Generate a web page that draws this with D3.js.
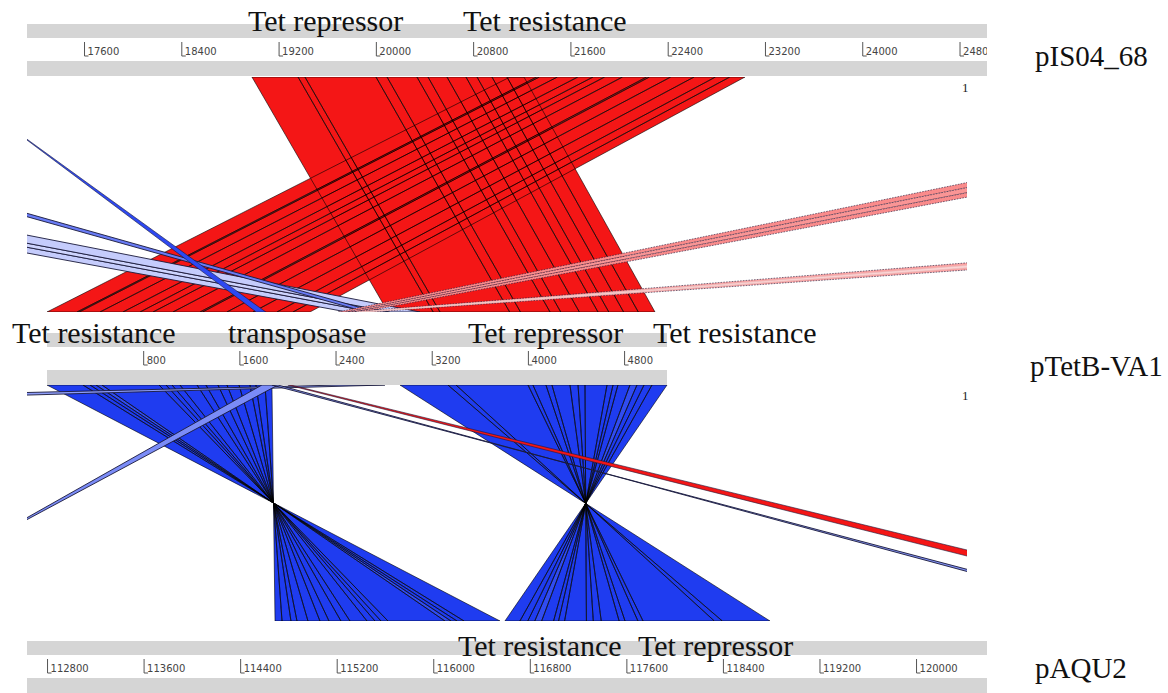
<!DOCTYPE html>
<html><head><meta charset="utf-8">
<script src="https://cdn.jsdelivr.net/npm/d3@7"></script>
<style>
body{margin:0;background:#fff;}
svg{display:block;}
</style></head>
<body>
<svg id="chart" width="1168" height="693"></svg>
<script>
// ---- sequences shown as rulers (bp windows) ----
const trackNames = ["pIS04_68", "pTetB-VA1", "pAQU2"];
const trackDomains = [[17131, 25026], [0, 5157], [112634, 120588]];
const trackTicks = [
  [17600, 18400, 19200, 20000, 20800, 21600, 22400, 23200, 24000, 24800],
  [800, 1600, 2400, 3200, 4000, 4800],
  [112800, 113600, 114400, 115200, 116000, 116800, 117600, 118400, 119200, 120000]
];

// ---- gene annotations: [name, start bp] ----
const genesTop = [["Tet repressor", 18948], ["Tet resistance", 20717]];
const genesMid = [["Tet resistance", -291], ["transposase", 1505], ["Tet repressor", 3502], ["Tet resistance", 5040]];
const genesBot = [["Tet resistance", 116205], ["Tet repressor", 117696]];

// ---- pIS04_68 vs pTetB-VA1: two forward blocks split into sub-matches ----
const downTop    = [18981, 19360, 19417, 20001, 20092, 20338, 20429, 20585, 20741, 20832, 20955, 21078, 21218];
const downBottom = [2836, 3212, 3269, 3848, 3938, 4184, 4273, 4428, 4583, 4673, 4796, 4918, 5057];
const upTop      = [21103, 21323, 21345, 21493, 21661, 21786, 21882, 22029, 22227, 22250, 22425, 22617, 22793, 22911, 23036];
const upBottom   = [0, 250, 268, 441, 632, 774, 882, 1048, 1273, 1294, 1497, 1713, 1913, 2046, 2187];
// isolated hits: [pIS04_68 start, end, pTetB-VA1 start, end, % identity, strand]
const hitsTop = [
  [9277, 9672, 2495, 2703, 64, -1],
  [9672, 9919, 2703, 2853, 62, -1],
  [9919, 10486, 2853, 3102, 64, -1],
  [13044, 13167, 2653, 2736, 84, -1],
  [16424, 16440, 1820, 1740, 97, -1],
  [29080, 29400, 2420, 2490, 76, 1],
  [29400, 29750, 2490, 2555, 74, 1],
  [29750, 30067, 2555, 2620, 76, 1],
  [44047, 47337, 2520, 2703, 71, 1],
  [45200, 46200, 2580, 2645, 61, 1]
];

// ---- pTetB-VA1 vs pAQU2: two inverted blocks split into sub-matches ----
const invATop    = [0, 299, 358, 408, 457, 932, 990, 1040, 1106, 1248, 1322, 1422, 1497, 1597, 1688, 1738, 1813, 1871];
const invABottom = [116553, 116255, 116197, 116147, 116097, 115625, 115567, 115517, 115451, 115310, 115235, 115136, 115061, 114962, 114871, 114821, 114747, 114689];
const invAIdent  = [100, 100, 100, 96, 100, 100, 100, 100, 100, 100, 100, 100, 100, 100, 100, 100, 100];
const invBTop    = [2936, 3335, 3402, 4001, 4042, 4150, 4200, 4350, 4417, 4475, 4658, 4708, 4749, 4849, 4907, 4966, 5032, 5157];
const invBBottom = [118790, 118395, 118329, 117738, 117696, 117589, 117540, 117392, 117326, 117269, 117088, 117038, 116997, 116898, 116841, 116783, 116718, 116594];
const invBIdent  = [100, 100, 100, 100, 100, 100, 100, 100, 100, 100, 100, 100, 100, 96, 100, 100, 100];
// isolated hits: [pTetB-VA1 start, end, pAQU2 start, end, % identity, strand]
const hitsBot = [
  [2437, 2811, 33703, 46130, 76, -1],
  [1788, 1921, 111118, 111068, 80, -1],
  [1871, 1921, 122037, 121938, 78, -1],
  [2004, 2029, 122559, 122833, 100, 1]
];

// ---------------- drawing ----------------
const svg = d3.select("#chart");
const serif = "'Liberation Serif','Times New Roman',serif";

const rulers = [
  {x0: 27, x1: 987, y: 24, labelY: 66, labelX: 1035},
  {x0: 47, x1: 667, y: 333, labelY: 376, labelX: 1030},
  {x0: 27, x1: 987, y: 641, labelY: 678, labelX: 1035}
];
const xs = rulers.map((r, i) => d3.scaleLinear().domain(trackDomains[i]).range([r.x0, r.x1]));

const fwdColor = d3.scaleLinear().domain([55, 100]).range(["#fff2f2", "#f41616"]).clamp(true);
const revColor = d3.scaleLinear().domain([55, 100]).range(["#eef0ff", "#1f3cf0"]).clamp(true);

const defs = svg.append("defs");

const panels = [
  {a: 0, b: 1, y0: 77, y1: 312,
   blocks: [[downTop, downBottom, null], [upTop, upBottom, null]], hits: hitsTop},
  {a: 1, b: 2, y0: 385, y1: 621,
   blocks: [[invATop, invABottom, invAIdent], [invBTop, invBBottom, invBIdent]], hits: hitsBot}
];

function splitBlocks(tb, bb, ident) {
  return d3.range(tb.length - 1).map(i => {
    const m = {q0: tb[i], q1: tb[i + 1], s0: bb[i], s1: bb[i + 1], id: ident ? ident[i] : 100};
    m.strand = (m.q1 - m.q0) * (m.s1 - m.s0) < 0 ? -1 : 1;
    return m;
  });
}
const colourOf = m => m.strand < 0 ? revColor(m.id) : fwdColor(m.id);

panels.forEach((p, pi) => {
  const xa = xs[p.a], xb = xs[p.b];
  const clipId = "clip" + pi;
  defs.append("clipPath").attr("id", clipId)
    .append("rect").attr("x", 27).attr("y", p.y0).attr("width", 940).attr("height", p.y1 - p.y0);
  const g = svg.append("g").attr("clip-path", `url(#${clipId})`);
  const poly = m => d3.line()([[xa(m.q0), p.y0], [xa(m.q1), p.y0], [xb(m.s1), p.y1], [xb(m.s0), p.y1]]) + "Z";

  const blocks = p.blocks.flatMap(b => splitBlocks(b[0], b[1], b[2]));
  g.append("g").selectAll("path").data(blocks).join("path")
    .attr("d", poly).attr("fill", colourOf).attr("stroke", "none");
  g.append("g").selectAll("path").data(blocks).join("path")
    .attr("d", poly).attr("fill", "none").attr("stroke", "#000")
    .attr("stroke-width", 0.7).attr("stroke-opacity", 0.85);

  const hits = p.hits.map(h => ({q0: h[0], q1: h[1], s0: h[2], s1: h[3], id: h[4], strand: h[5]}));
  g.append("g").selectAll("path").data(hits).join("path")
    .attr("d", poly)
    .attr("fill", colourOf)
    .attr("stroke", m => m.id < 66 && m.strand > 0 ? d3.color(colourOf(m)).darker(0.3) : "#1a1a3a")
    .attr("stroke-width", m => m.strand < 0 && m.id < 90 ? 0.9 : 0.6)
    .attr("stroke-dasharray", m => (m.id < 90 && m.id >= 66 && m.strand > 0) ? "1.6 1.2" : null);

  svg.append("text").attr("x", 962).attr("y", p.y0 + 15)
    .attr("font-family", serif).attr("font-size", 13).attr("fill", "#222").text("1");
});

// rulers with L-shaped tick marks
rulers.forEach((r, i) => {
  const g = svg.append("g");
  g.append("rect").attr("x", r.x0).attr("y", r.y).attr("width", r.x1 - r.x0).attr("height", 14).attr("fill", "#d5d5d5");
  g.append("rect").attr("x", r.x0).attr("y", r.y + 37).attr("width", r.x1 - r.x0).attr("height", 15).attr("fill", "#d5d5d5");
  const cid = "rclip" + i;
  defs.append("clipPath").attr("id", cid)
    .append("rect").attr("x", r.x0).attr("y", r.y + 14).attr("width", r.x1 - r.x0).attr("height", 23);
  const axis = d3.axisBottom(xs[i]).tickValues(trackTicks[i]).tickSize(14).tickSizeOuter(0)
    .tickFormat(d3.format("d"));
  const ag = g.append("g").attr("clip-path", `url(#${cid})`)
    .append("g").attr("transform", `translate(0,${r.y + 18})`).call(axis);
  ag.select(".domain").remove();
  ag.selectAll(".tick line").attr("stroke", "#555").attr("stroke-width", 1);
  ag.selectAll(".tick").append("line").attr("x1", 0).attr("x2", 4).attr("y1", 14).attr("y2", 14)
    .attr("stroke", "#555");
  ag.selectAll(".tick text").attr("x", 3).attr("y", 13).attr("dy", null)
    .attr("text-anchor", "start").attr("fill", "#444")
    .attr("font-family", "'DejaVu Sans',sans-serif").attr("font-size", 10);

  svg.append("text").attr("x", r.labelX).attr("y", r.labelY)
    .attr("font-family", serif).attr("font-size", 29).attr("fill", "#111").text(trackNames[i]);
});

// gene labels
[[genesTop, 0, 31], [genesMid, 1, 343], [genesBot, 2, 656]].forEach(([genes, ti, y]) => {
  svg.append("g").selectAll("text").data(genes).join("text")
    .attr("x", d => xs[ti](d[1])).attr("y", y)
    .attr("font-family", serif).attr("font-size", 30).attr("fill", "#111")
    .text(d => d[0]);
});
</script>
</body></html>
